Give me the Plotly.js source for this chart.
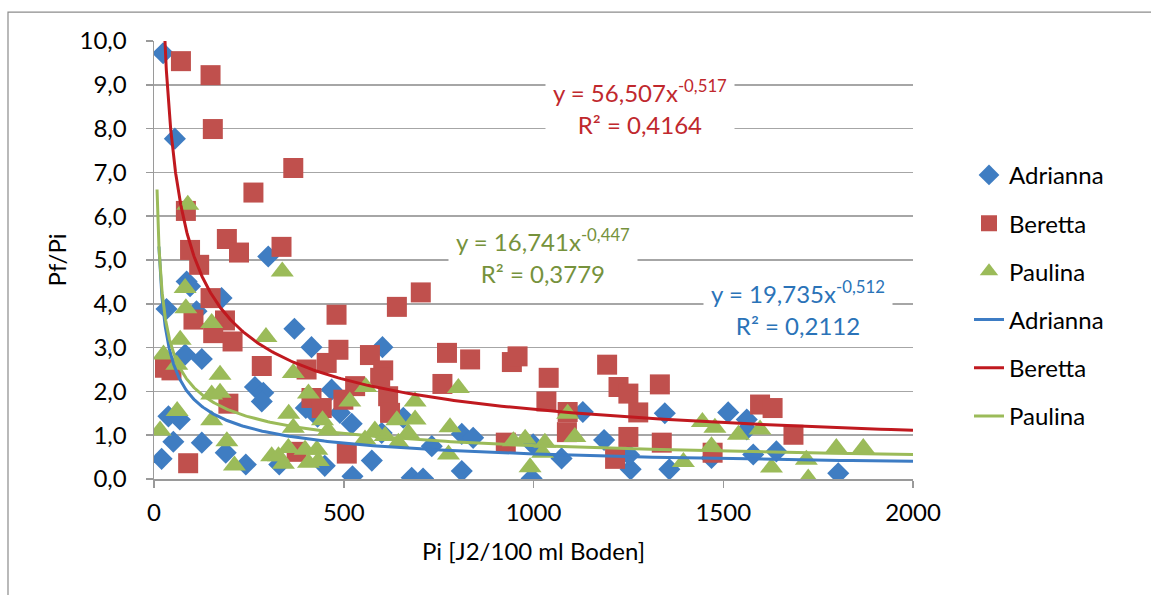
<!DOCTYPE html>
<html>
<head>
<meta charset="utf-8">
<script src="https://cdn.plot.ly/plotly-3.0.1.min.js"></script>
<style>
html,body{margin:0;padding:0;background:#fff;}
#chart{width:1151px;height:595px;}
</style>
</head>
<body>
<div id="chart"></div>
<script>
// ---- data ----
var seriesNames = ["Adrianna", "Beretta", "Paulina"];

var adriannaX = [24,55,33,86,95,178,112,301,370,415,602,82,126,266,288,284,468,38,68,51,126,20,189,242,400,490,521,574,523,330,450,431,657,732,811,841,811,679,709,995,999,1074,1130,1186,1256,1252,1346,1358,1513,1562,1562,1469,1579,1640,1803,600];
var adriannaY = [9.72,7.77,3.88,4.51,4.40,4.13,3.83,5.08,3.43,3.01,3.01,2.84,2.74,2.10,1.97,1.77,2.04,1.43,1.36,0.85,0.83,0.46,0.60,0.33,1.62,1.51,1.26,0.42,0.06,0.33,0.30,1.42,1.40,0.75,1.03,0.94,0.18,0.03,0.01,0.01,0.79,0.47,1.53,0.89,0.22,0.55,1.50,0.22,1.52,1.36,1.13,0.48,0.56,0.63,0.13,1.05];

var berettaX = [71,149,155,367,262,84,192,95,224,336,119,149,104,187,156,207,481,640,703,284,29,46,402,455,486,569,604,596,196,90,415,442,376,508,530,499,617,622,772,833,943,958,760,927,1040,1034,1090,1088,1194,1224,1250,1276,1250,1215,1333,1338,1472,1597,1630,1685];
var berettaY = [9.54,9.22,7.99,7.10,6.54,6.12,5.48,5.23,5.17,5.30,4.89,4.13,3.64,3.62,3.33,3.14,3.75,3.93,4.26,2.58,2.54,2.48,2.50,2.65,2.95,2.83,2.48,2.31,1.72,0.36,1.85,1.62,0.62,0.58,2.12,1.81,1.89,1.51,2.88,2.73,2.67,2.80,2.17,0.83,2.31,1.77,1.53,1.07,2.61,2.10,1.95,1.52,0.96,0.46,2.16,0.83,0.60,1.70,1.62,1.01];

var paulinaX = [89,82,84,152,69,25,60,295,338,174,367,152,174,61,16,152,407,355,192,212,310,328,341,354,367,398,429,407,433,444,459,516,558,802,688,688,640,582,556,609,644,670,780,776,947,978,1030,1024,991,1090,1109,1395,1445,1469,1478,1540,1597,1627,1719,1724,1798,1869];
var paulinaY = [6.26,4.36,3.90,3.56,3.18,2.84,2.61,3.24,4.74,2.38,2.42,1.93,1.97,1.55,1.11,1.34,1.95,1.49,0.86,0.31,0.52,0.52,0.35,0.71,1.17,0.67,0.67,0.37,0.41,1.34,1.11,1.77,2.10,2.08,1.77,1.36,1.34,1.11,0.90,0.98,0.83,1.05,1.18,0.56,0.86,0.92,0.83,0.60,0.27,1.49,0.96,0.39,1.30,0.75,1.17,1.01,1.13,0.26,0.44,0.01,0.71,0.71];

// power trendlines y = a * x^b (coefficients as printed on the chart)
var trendA = [19.735, 56.507, 16.741];
var trendB = [-0.512, -0.517, -0.447];
var trendStart = [13, 24, 8];
var trendEnd = 2000;
var trendLabels = [
  "y = 19,735x<sup>-0,512</sup><br>R² = 0,2112",
  "y = 56,507x<sup>-0,517</sup><br>R² = 0,4164",
  "y = 16,741x<sup>-0,447</sup><br>R² = 0,3779"
];

var yTicks = [0,1,2,3,4,5,6,7,8,9,10];
var xTicks = [0,500,1000,1500,2000];

// ---- styling ----
var FONT = "Lato, 'Open Sans', sans-serif";
var FS = 24;
var markerColors = ["#3F7DC2", "#C0504D", "#9BBB59"];
var lineColors = ["#3D7CC4", "#C0191F", "#9BBB59"];
var textColors = ["#2A73B8", "#C0282D", "#76923C"];
var symbols = ["diamond", "square", "triangle-up"];
var sizes = [17, 20, 20];

var xs = [adriannaX, berettaX, paulinaX];
var ys = [adriannaY, berettaY, paulinaY];

var traces = [];
for (var i = 0; i < 3; i++) {
  traces.push({
    type: "scatter", mode: "markers",
    x: xs[i], y: ys[i], name: seriesNames[i],
    legendgroup: "m" + i,
    marker: {symbol: symbols[i], size: sizes[i], color: markerColors[i], line: {width: 0}},
    cliponaxis: true
  });
}
for (var j = 0; j < 3; j++) {
  var tx = [], ty = [];
  var n = 300;
  var l0 = Math.log(trendStart[j]), l1 = Math.log(trendEnd);
  for (var k = 0; k <= n; k++) {
    var xv = Math.exp(l0 + (l1 - l0) * k / n);
    tx.push(xv);
    ty.push(trendA[j] * Math.pow(xv, trendB[j]));
  }
  traces.push({
    type: "scatter", mode: "lines",
    x: tx, y: ty, name: seriesNames[j],
    legendgroup: "l" + j,
    line: {color: lineColors[j], width: 3},
    hoverinfo: "skip"
  });
}

// plot area in pixels
var L = 154, R = 913, T = 41, B = 479.5, W = 1151, H = 595;
function px2x(p) { return (p - L) / (R - L); }
function py2y(p) { return (B - p) / (B - T); }

var annPos = [
  {cx: 798, cy: 308},
  {cx: 640, cy: 107},
  {cx: 543, cy: 256}
];
var annW = [186, 186, 186];
var annotations = [];
for (var a = 0; a < 3; a++) {
  annotations.push({
    xref: "paper", yref: "paper",
    x: px2x(annPos[a].cx), y: py2y(annPos[a].cy),
    xanchor: "center", yanchor: "middle",
    text: trendLabels[a], showarrow: false,
    font: {family: FONT, size: FS, color: textColors[a]},
    bgcolor: "#ffffff", width: annW[a], height: 66, align: "center"
  });
}

var layout = {
  width: W, height: H,
  margin: {l: L, r: W - R, t: T, b: H - B, pad: 0},
  paper_bgcolor: "#ffffff", plot_bgcolor: "#ffffff",
  separators: ",.",
  font: {family: FONT, size: FS, color: "#000000"},
  showlegend: true,
  legend: {
    x: px2x(969), y: py2y(153), xanchor: "left", yanchor: "top",
    font: {family: FONT, size: FS, color: "#000000"},
    traceorder: "grouped", tracegroupgap: 14,
    bgcolor: "rgba(0,0,0,0)", borderwidth: 0
  },
  xaxis: {
    range: [0, 2000], tickvals: xTicks, ticktext: xTicks.map(String),
    showgrid: false, zeroline: false,
    showline: true, linecolor: "#9a9a9a", linewidth: 1.5,
    ticks: "outside", ticklen: 7, tickcolor: "#9a9a9a", tickwidth: 1.5,
    ticklabelstandoff: 5,
    tickfont: {family: FONT, size: FS, color: "#000"},
    title: {text: "Pi [J2/100 ml Boden]", font: {family: FONT, size: FS, color: "#000"}, standoff: 18},
    fixedrange: true
  },
  yaxis: {
    range: [0, 10], tickvals: yTicks, tickformat: ".1f",
    showgrid: true, gridcolor: "#a6a6a6", gridwidth: 1.5,
    zeroline: false,
    showline: true, linecolor: "#9a9a9a", linewidth: 1.5,
    ticks: "outside", ticklen: 7, tickcolor: "#9a9a9a", tickwidth: 1.5,
    ticklabelstandoff: 14,
    tickfont: {family: FONT, size: FS, color: "#000"},
    title: {text: "Pf/Pi", font: {family: FONT, size: FS, color: "#000"}, standoff: 6},
    fixedrange: true
  },
  annotations: annotations,
  shapes: [{
    type: "rect", xref: "paper", yref: "paper",
    x0: px2x(8), x1: px2x(1300), y0: py2y(800), y1: py2y(12),
    line: {color: "#8c8c8c", width: 1.2}, fillcolor: "rgba(0,0,0,0)", layer: "below"
  }]
};

Plotly.newPlot("chart", traces, layout, {displayModeBar: false, staticPlot: true});
</script>
</body>
</html>
